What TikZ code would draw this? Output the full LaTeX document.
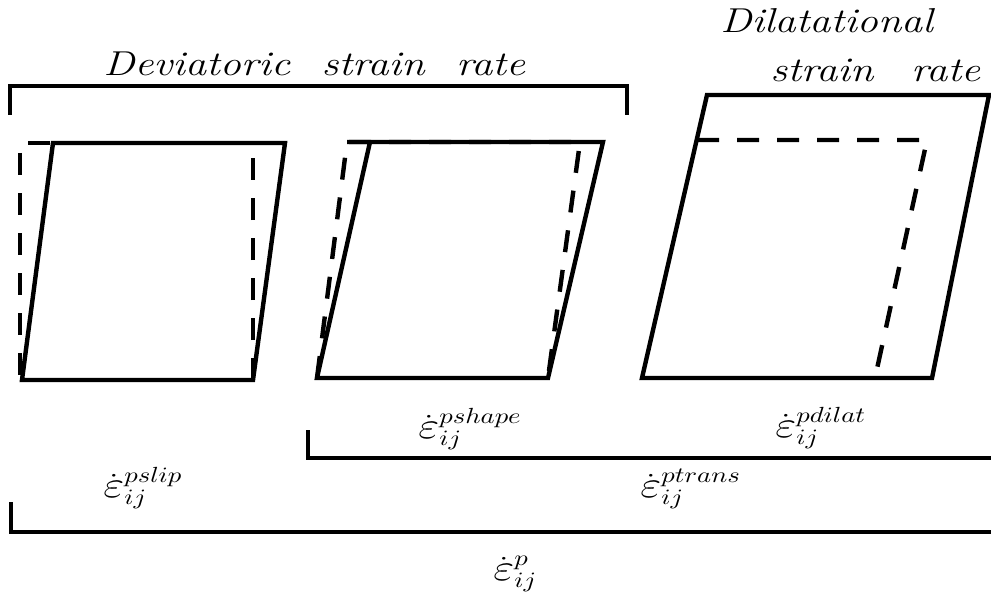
\documentclass[tikz,border=0pt]{standalone}
\usepackage{graphicx}
\usepackage{tikz}
\usetikzlibrary{positioning}
\tikzset{
  cell outline/.style={line width=2.2pt},
  cell ghost/.style={line width=2.2pt,dash pattern=on 11pt off 9pt},
  bracket line/.style={line width=1.8pt},
  heading/.style={inner sep=0pt,anchor=base west,font=\LARGE\itshape},
  rate label/.style={inner sep=0pt,anchor=base west,font=\fontsize{15}{18}\selectfont}
}
\newcommand{\widetext}[1]{\scalebox{1.22}[1]{#1}}
\newcommand{\ratesym}[1]{\widetext{$\dot{\mbox{\scalebox{1.3}{$\varepsilon$}}}_{ij}^{#1}$}}

\begin{document}
\begin{tikzpicture}[x=0.5pt,y=-0.5pt]
\useasboundingbox (0,0) rectangle (991,599);
\node[heading] (dev) at (103,76) {\widetext{Deviatoric\hspace{.75em}strain\hspace{.75em}rate}};
\node[heading] (dil) at (720,33) {\widetext{Dilatational}};
\node[heading] (dilrate) at (770,82) {\widetext{strain\hspace{.9em}rate}};
\draw[bracket line] (10,115) -- (10,86) -- (627,86) -- (627,115);
\draw[cell ghost] (253,380) -- (253,143) -- (20,143) -- (20,380);
\draw[cell outline] (22,380) -- (253,380) -- (285,143) -- (53,143) -- cycle;
\draw[cell ghost] (317,378) -- (347,142) -- (580,142) -- (548,378);
\draw[cell outline] (347,142) -- (603,142) -- (548,378) -- (317,378) -- (370,142);
\draw[cell ghost] (697,140) -- (927,140) -- (875,378);
\draw[cell outline] (642,378) -- (932,378) -- (989,95) -- (707,95) -- cycle;
\node[rate label] (shape) at (418,438) {\ratesym{pshape}};
\node[rate label] (dilat) at (775,437) {\ratesym{pdilat}};
\draw[bracket line] (308,430) -- (308,458) -- (991,458);
\node[rate label] (slip) at (103,497) {\ratesym{pslip}};
\node[rate label] (trans) at (640,497) {\ratesym{ptrans}};
\draw[bracket line] (11,502) -- (11,532) -- (991,532);
\node[rate label] (total) at (493,580) {\ratesym{p}};
\end{tikzpicture}
\end{document}
